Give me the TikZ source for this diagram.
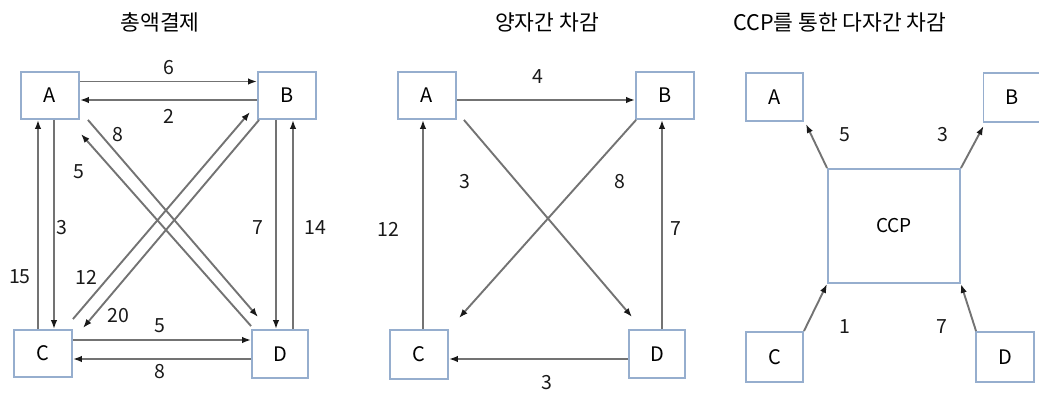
\documentclass[tikz,border=0pt]{standalone}
\usepackage{fontspec}
\setmainfont{Noto Sans CJK KR}
\usetikzlibrary{calc,arrows.meta}
\definecolor{boxc}{RGB}{150,174,206}
\definecolor{linec}{RGB}{115,115,115}
\definecolor{tipc}{RGB}{25,25,25}
\tikzset{
  bx/.style={draw=boxc,line width=1.9pt,fill=white,minimum width=58pt,minimum height=47pt,inner sep=0pt,font=\fontsize{20}{20}\selectfont},
  arr/.style={draw=linec,line width=1.9pt,-{Latex[length=9pt,width=6.5pt,color=tipc]}},
  lab/.style={font=\fontsize{19.5}{19.5}\selectfont,text=black!90,inner sep=0pt},
  ttl/.style={font=\fontsize{21.5}{21.5}\selectfont,inner sep=0pt}
}
\begin{document}
\begin{tikzpicture}[x=1pt,y=-1pt]
\useasboundingbox (0,0) rectangle (1039,394);
% titles
\node[ttl] (t1) at (160,22) {총액결제};
\node[ttl] (t2) at (547,22) {양자간 차감};
\node[ttl] (t3) at (840,22) {CCP를 통한 다자간 차감};
% panel 1
\node[bx] (A1) at (50,95.5) {A};
\node[bx] (B1) at (287,95.5) {B};
\node[bx] (C1) at (43,353.5) {C};
\node[bx,minimum width=56pt,minimum height=48pt] (D1) at (280,354) {D};
\draw[arr] ($(A1.east)+(0,-14)$) -- ($(B1.west)+(0,-14)$);
\draw[arr] ($(B1.west)+(0,4.5)$) -- ($(A1.east)+(0,4.5)$);
\draw[arr] ($(A1.south)+(4,0)$) -- ($(C1.north)+(11,0)$);
\draw[arr] ($(C1.north)+(-5,0)$) -- ($(A1.south)+(-12,0)$);
\draw[arr] ($(B1.south)+(-11,0)$) -- ($(D1.north)+(-4,0)$);
\draw[arr] ($(D1.north)+(13,0)$) -- ($(B1.south)+(6,0)$);
\draw[arr] ($(C1.east)+(0,-13.5)$) -- ($(D1.west)+(0,-14)$);
\draw[arr] ($(D1.west)+(0,5)$) -- ($(C1.east)+(0,5.5)$);
\draw[arr] ($(A1.south east)+(8,0)$) -- ($(D1.north west)+(7,-12)$);
\draw[arr] ($(D1.north west)+(0,-3)$) -- ($(A1.south east)+(1,14)$);
\draw[arr] ($(C1.north east)+(0,-10)$) -- ($(B1.south west)+(-7,-8)$);
\draw[arr] ($(B1.south west)+(2,0)$) -- ($(C1.north east)+(10,-1)$);
\node[lab] (l16) at (169,68) {6};
\node[lab] (l12) at (169,116) {2};
\node[lab] (l13) at (62,228) {3};
\node[lab] (l115) at (20,277) {15};
\node[lab] (l17) at (258,228) {7};
\node[lab] (l114) at (315,228) {14};
\node[lab] (l15a) at (160,326) {5};
\node[lab] (l18a) at (160,372) {8};
\node[lab] (l18b) at (118,135) {8};
\node[lab] (l15b) at (79,172) {5};
\node[lab] (l112) at (86,277) {12};
\node[lab] (l120) at (118,316) {20};
% panel 2
\node[bx] (A2) at (427,95.5) {A};
\node[bx] (B2) at (665,95.5) {B};
\node[bx,minimum height=49pt] (C2) at (419,354.5) {C};
\node[bx,minimum width=56pt,minimum height=48pt] (D2) at (657,354) {D};
\draw[arr] ($(A2.east)+(0,4.5)$) -- ($(B2.west)+(0,4.5)$);
\draw[arr] ($(C2.north)+(4,0)$) -- ($(A2.south)+(-4,0)$);
\draw[arr] ($(D2.north)+(5,0)$) -- ($(B2.south)+(-3,0)$);
\draw[arr] ($(D2.west)+(0,5)$) -- ($(C2.east)+(0,4.5)$);
\draw[arr] ($(A2.south east)+(7,0)$) -- ($(D2.north west)+(4,-12)$);
\draw[arr] ($(B2.south west)+(1,0)$) -- ($(C2.north east)+(10,-11)$);
\node[lab] (l24) at (538,77) {4};
\node[lab] (l212) at (388,229) {12};
\node[lab] (l27) at (676,229) {7};
\node[lab] (l23a) at (547,383) {3};
\node[lab] (l23b) at (465,182) {3};
\node[lab] (l28) at (620,182) {8};
% panel 3
\node[bx,minimum width=57pt,minimum height=48pt] (A3) at (774.5,97) {A};
\node[bx,minimum width=57pt,minimum height=49pt] (B3) at (1012,97.5) {B};
\node[bx,minimum width=57pt,minimum height=50pt] (C3) at (774.5,357) {C};
\node[bx,minimum width=58pt,minimum height=50pt] (D3) at (1005,357) {D};
\node[bx,minimum width=132pt,minimum height=114pt,font=\fontsize{19}{19}\selectfont] (CCP) at (894,226) {CCP};
\draw[arr] (CCP.north west) -- ($(A3.south east)+(2,2)$);
\draw[arr] (CCP.north east) -- ($(B3.south west)+(1,3)$);
\draw[arr] (C3.north east) -- (CCP.south west);
\draw[arr] ($(D3.north west)+(1,0)$) -- (CCP.south east);
\node[lab] (l35) at (845,135) {5};
\node[lab] (l33) at (943,135) {3};
\node[lab] (l31) at (845,327) {1};
\node[lab] (l37) at (942,327) {7};
\end{tikzpicture}
\end{document}
